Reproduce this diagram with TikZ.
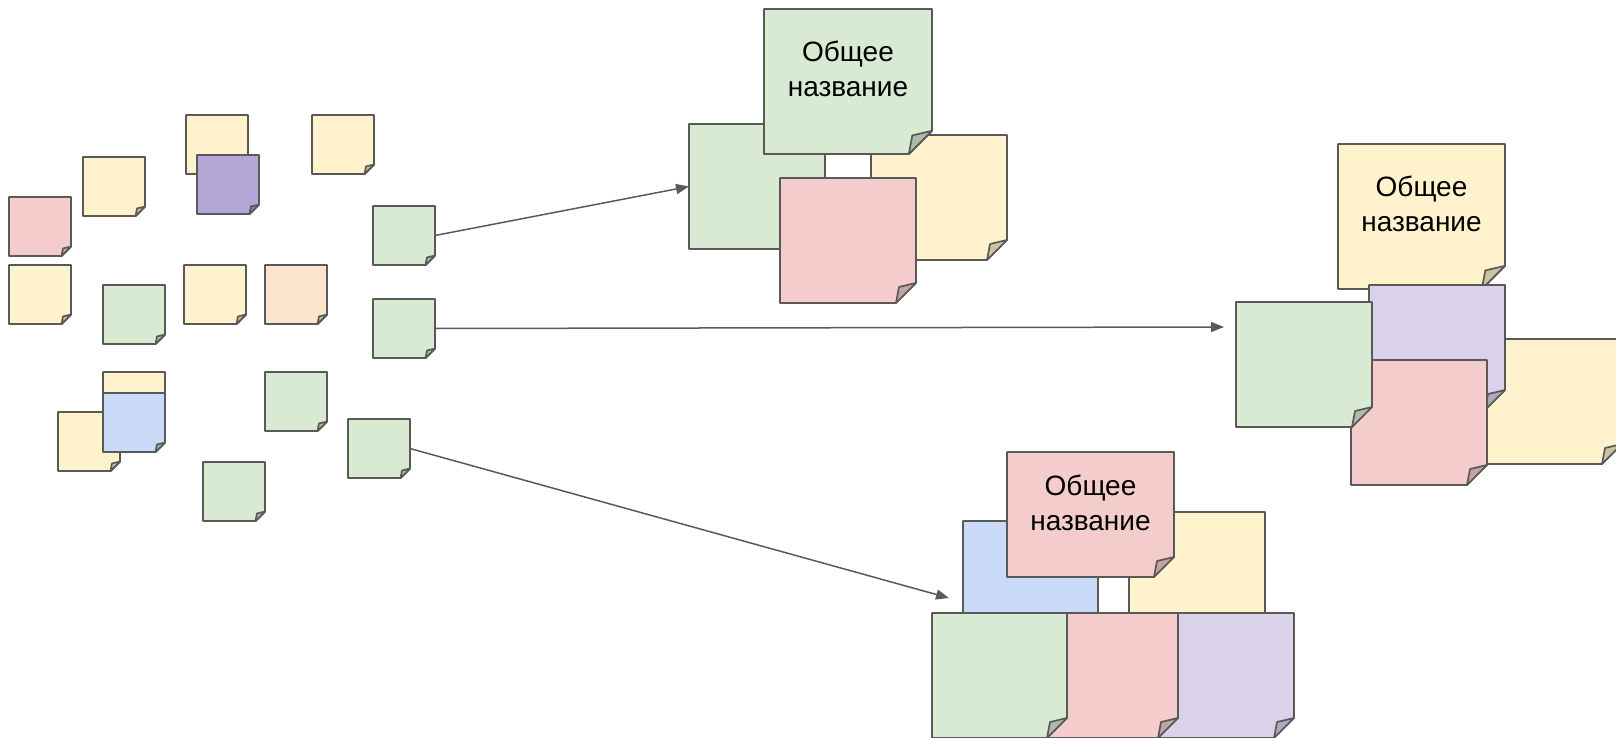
\documentclass[tikz,border=0pt]{standalone}
\usepackage{fontspec}
\setmainfont{Liberation Sans}
\usetikzlibrary{arrows.meta}

\definecolor{notegreen}{HTML}{D9EAD3}
\definecolor{noteyellow}{HTML}{FFF2CC}
\definecolor{notepink}{HTML}{F4CCCC}
\definecolor{notelilac}{HTML}{D9D2E9}
\definecolor{notepurple}{HTML}{B4A7D6}
\definecolor{noteblue}{HTML}{C9DAF8}
\definecolor{notepeach}{HTML}{FCE5CD}
\definecolor{edgegray}{HTML}{595959}

\newcommand{\sticky}[7][noteyellow]{%
  % #1 colour (default yellow), #2 name, #3 x, #4 y (top left), #5 width, #6 height, #7 text
  \path[notebody, fill=#1]
    (#3,#4) -- ({#3+#5},#4) -- ({#3+#5},{#4+0.84*#6})
    -- ({#3+#5-0.16*#6},{#4+#6}) -- (#3,{#4+#6}) -- cycle;
  \path[notebody, fill=#1!80!black]
    ({#3+#5-0.16*#6},{#4+#6}) -- ({#3+#5-0.136*#6},{#4+0.872*#6})
    -- ({#3+#5},{#4+0.84*#6}) -- cycle;
  \node[notebox, minimum width={#5*0.5pt}, minimum height={#6*0.5pt}]
    (#2) at ({#3+#5/2},{#4+#6/2}) {};
  \node[notetext] (#2-label) at ({#3+#5/2},{#4+0.41*#6}) {#7};
}

\begin{document}
\begin{tikzpicture}[x=0.5pt,y=-0.5pt]

% note and arrow styles
\tikzset{
  notebody/.style={draw=edgegray, line width=0.85pt, line join=round},
  notebox/.style={inner sep=0pt, outer sep=0pt},
  notetext/.style={inner sep=0pt, align=center, font=\fontsize{14pt}{17.5pt}\selectfont},
  link/.style={draw=edgegray, line width=0.75pt, -{Triangle[length=6.5pt,width=5pt]}},
}

\useasboundingbox (0,0) rectangle (1616,738);

% ---------------- loose notes ----------------
\sticky{y1}{186}{115}{62}{59}{}
\sticky[notepurple]{p1}{197}{155}{62}{59}{}
\sticky{y2}{312}{115}{62}{59}{}
\sticky{y3}{83}{157}{62}{59}{}
\sticky[notepink]{r1}{9}{197}{62}{59}{}
\sticky{y4}{9}{265}{62}{59}{}
\sticky[notegreen]{g1}{103}{285}{62}{59}{}
\sticky{y5}{184}{265}{62}{59}{}
\sticky[notepeach]{o1}{265}{265}{62}{59}{}
\sticky[notegreen]{src1}{373}{206}{62}{59}{}
\sticky[notegreen]{src2}{373}{299}{62}{59}{}
\sticky{y6}{103}{372}{62}{59}{}
\sticky{y7}{58}{412}{62}{59}{}
\sticky[noteblue]{b1}{103}{393}{62}{59}{}
\sticky[notegreen]{g2}{265}{372}{62}{59}{}
\sticky[notegreen]{src3}{348}{419}{62}{59}{}
\sticky[notegreen]{g3}{203}{462}{62}{59}{}

% ---------------- group A (top) ----------------
\sticky[notegreen]{grpA-1}{689}{124}{136}{125}{}
\sticky{grpA-2}{871}{135}{136}{125}{}
\sticky[notepink]{grpA-3}{780}{178}{136}{125}{}
\sticky[notegreen]{grpA-title}{764}{9}{168}{145}{Общее\\название}

% ---------------- group B (right) ----------------
\sticky{grpB-title}{1338}{144}{167}{145}{Общее\\название}
\sticky{grpB-1}{1486}{339}{136}{125}{}
\sticky[notelilac]{grpB-2}{1369}{285}{136}{125}{}
\sticky[notepink]{grpB-3}{1351}{360}{136}{125}{}
\sticky[notegreen]{grpB-4}{1236}{302}{136}{125}{}

% ---------------- group C (bottom) ----------------
\sticky[noteblue]{grpC-1}{963}{521}{135}{125}{}
\sticky{grpC-2}{1129}{512}{136}{125}{}
\sticky[notepink]{grpC-title}{1007}{452}{167}{125}{Общее\\название}
\sticky[notelilac]{grpC-3}{1158}{613}{136}{125}{}
\sticky[notepink]{grpC-4}{1042}{613}{136}{125}{}
\sticky[notegreen]{grpC-5}{932}{613}{135}{125}{}

% arrows
\coordinate (tgtB) at (1224,327);
\coordinate (tgtC) at (949,598);
\draw[link] (src1.east) -- (grpA-1.west);
\draw[link] (src2.east) -- (tgtB);
\draw[link] (src3.east) -- (tgtC);

\end{tikzpicture}
\end{document}
